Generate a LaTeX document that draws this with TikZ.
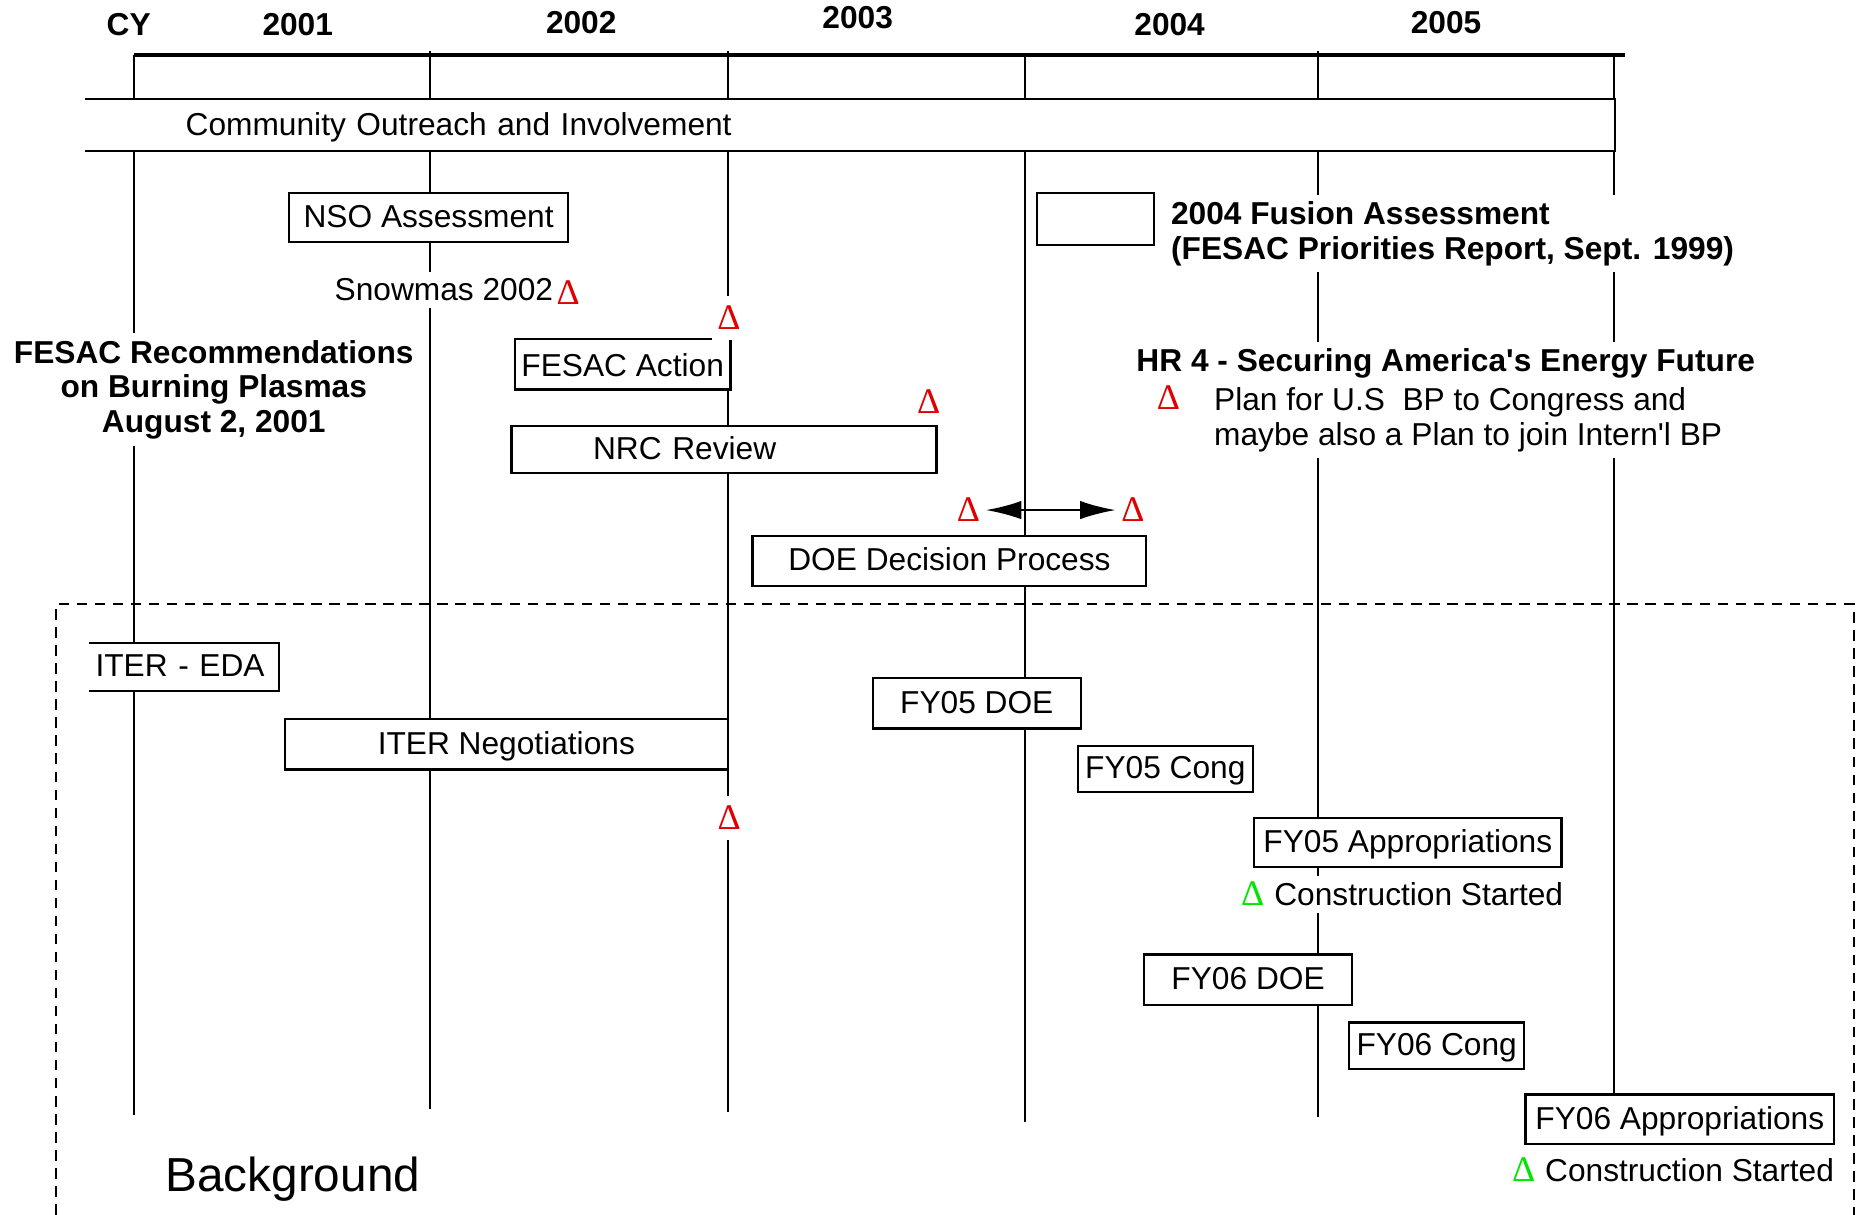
\documentclass[tikz,border=0pt]{standalone}
\usepackage{fontspec}
\setmainfont{Liberation Sans}
\newfontfamily\deltafont{Liberation Serif}
\usepackage{xcolor}
\usepackage{tikz}
\usetikzlibrary{arrows.meta}
\definecolor{deltared}{RGB}{225,0,0}
\definecolor{deltagreen}{RGB}{0,230,0}

\begin{document}
\begin{tikzpicture}[x=0.125mm,y=-0.125mm,>={Latex[length=3.75mm,width=1.95mm]},
  every node/.style={font=\fontsize{9.5}{10.4}\selectfont},
  gridline/.style={line width=0.6pt},
  bar/.style={draw,fill=white,line width=0.7pt,inner sep=0pt,text height=7.5pt,text depth=1.5pt},
  lbl/.style={fill=white,inner xsep=0pt,inner ysep=2pt},
  heading/.style={font=\fontsize{9.5}{10.4}\selectfont\bfseries},
  delta/.style={font=\fontsize{10.8}{12}\selectfont\deltafont,text=deltared,fill=white,
    inner xsep=1.5pt,inner ysep=3pt,anchor=base}]
  \useasboundingbox (0,0) rectangle (1568,1024);
% years and grid
  \draw[line width=1.1pt] (113,46.4) -- (1370,46.4);
  \foreach \xx/\ya/\yb in {113/46.4/940,362.1/42.7/935.3,614.1/42.7/937.8,
      864.2/46.4/946.2,1111.3/42.7/942,1360.3/46.4/930}
    \draw[gridline] (\xx,\ya) -- (\xx,\yb);
  \foreach \yr/\xx/\yy in {CY/108.5/29.5,2001/251/30,2002/490/28,2003/723/24,2004/986/30,2005/1219/28}
    \node[heading,anchor=base] (y\yr) at (\xx,\yy) {\yr};
% outreach band
  \node[fill=white,anchor=west,inner sep=0pt,minimum width=161.15mm,minimum height=5.275mm,
    text width=140.03mm,align=left,text height=7.5pt,text depth=1.5pt] (outreach) at (71.5,105.4)
    {Community Outreach and Involvement};
  \draw[line width=0.6pt] (outreach.north west) -- (outreach.north east)
    -- (outreach.south east) -- (outreach.south west);
% upper boxes
  \node[bar,minimum width=29.44mm,minimum height=5.19mm] (nso) at (361.3,183.3) {NSO Assessment};
  \node[bar,minimum width=22.71mm,minimum height=5.35mm,text depth=0pt] (fesacact) at (524.9,306.9) {FESAC Action};
  \node[bar,minimum width=44.78mm,minimum height=4.91mm,text width=27.58mm,align=left] (nrc)
    at (610.3,378.85) {NRC Review};
  \node[bar,minimum width=41.48mm,minimum height=5.28mm] (doe) at (800.4,472.7) {DOE Decision Process};
  \node[bar,minimum width=12.3mm,minimum height=5.51mm] (fusionbox) at (923.4,184.55) {};
% labels
  \node[lbl,anchor=base west] (snow) at (281.6,253.5) {Snowmas 2002};
  \node[lbl,heading,align=center,anchor=north] (fesacrec) at (180.2,280.5)
    {FESAC Recommendations\\on Burning Plasmas\\August 2, 2001};
  \node[lbl,heading,align=left,anchor=north west] (fusiontxt) at (986.7,163.7)
    {2004 Fusion Assessment\\(FESAC Priorities Report, Sept. 1999)};
  \node[lbl,heading,anchor=base west] (hr4) at (957.5,313.4)
    {HR 4 - Securing America\textquotesingle s Energy Future};
  \node[lbl,align=left,anchor=north west] (plan) at (1023,320.5)
    {Plan for U.S\ \ BP to Congress and\\maybe also a Plan to join Intern\textquotesingle l BP};
% milestones
  \node[delta] (dsnow) at (479,257) {Δ};
  \node[delta] (dfesac) at (614.5,278) {Δ};
  \node[delta] (dnrc) at (783,348.5) {Δ};
  \node[delta] (dleft) at (816.5,440) {Δ};
  \node[delta] (dright) at (955,440) {Δ};
  \node[delta] (dhr) at (985,345) {Δ};
  \draw[<->,line width=0.7pt] (dleft) -- (dright);
% background part
  \draw[line width=0.55pt,dash pattern=on 1.1mm off 0.8mm] (47.5,1024) -- (47.5,509.2)
    -- (1562.6,509.2) -- (1562.6,1024);
  \node[fill=white,anchor=west,inner sep=0pt,minimum width=19.88mm,minimum height=4.91mm,
    text width=18.63mm,align=left,text height=7.5pt,text depth=1.5pt] (eda) at (75,562.15) {ITER - EDA};
  \draw[line width=0.7pt] (eda.north west) -- (eda.north east) -- (eda.south east) -- (eda.south west);
  \node[bar,minimum width=46.71mm,minimum height=5.3mm] (iterneg) at (426.85,627.5) {ITER Negotiations};
  \node[delta] (diter) at (614.8,699.3) {Δ};
  \node[bar,minimum width=21.93mm,minimum height=5.33mm] (fy05doe) at (823.4,592.7) {FY05 DOE};
  \node[bar,minimum width=18.45mm,minimum height=4.85mm] (fy05cong) at (982.4,648.1) {FY05 Cong};
  \node[bar,minimum width=32.4mm,minimum height=5.16mm] (fy05app) at (1186.8,710.05) {FY05 Appropriations};
  \node[delta,text=deltagreen] (dcons05) at (1056,763.6) {Δ};
  \node[lbl,anchor=base west] (cons05) at (1073.7,763.6) {Construction Started};
  \node[bar,minimum width=21.96mm,minimum height=5.34mm] (fy06doe) at (1052.15,825.95) {FY06 DOE};
  \node[bar,minimum width=18.46mm,minimum height=4.91mm] (fy06cong) at (1211.15,881.65) {FY06 Cong};
  \node[bar,minimum width=32.53mm,minimum height=5.24mm] (fy06app) at (1416.1,943.55) {FY06 Appropriations};
  \node[delta,text=deltagreen] (dcons06) at (1284.5,996.3) {Δ};
  \node[lbl,anchor=base west] (cons06) at (1302,996.3) {Construction Started};
  \node[font=\fontsize{14.3}{17}\selectfont,anchor=base west,inner sep=0pt] (bkg) at (139,1004.7) {Background};
\end{tikzpicture}
\end{document}
